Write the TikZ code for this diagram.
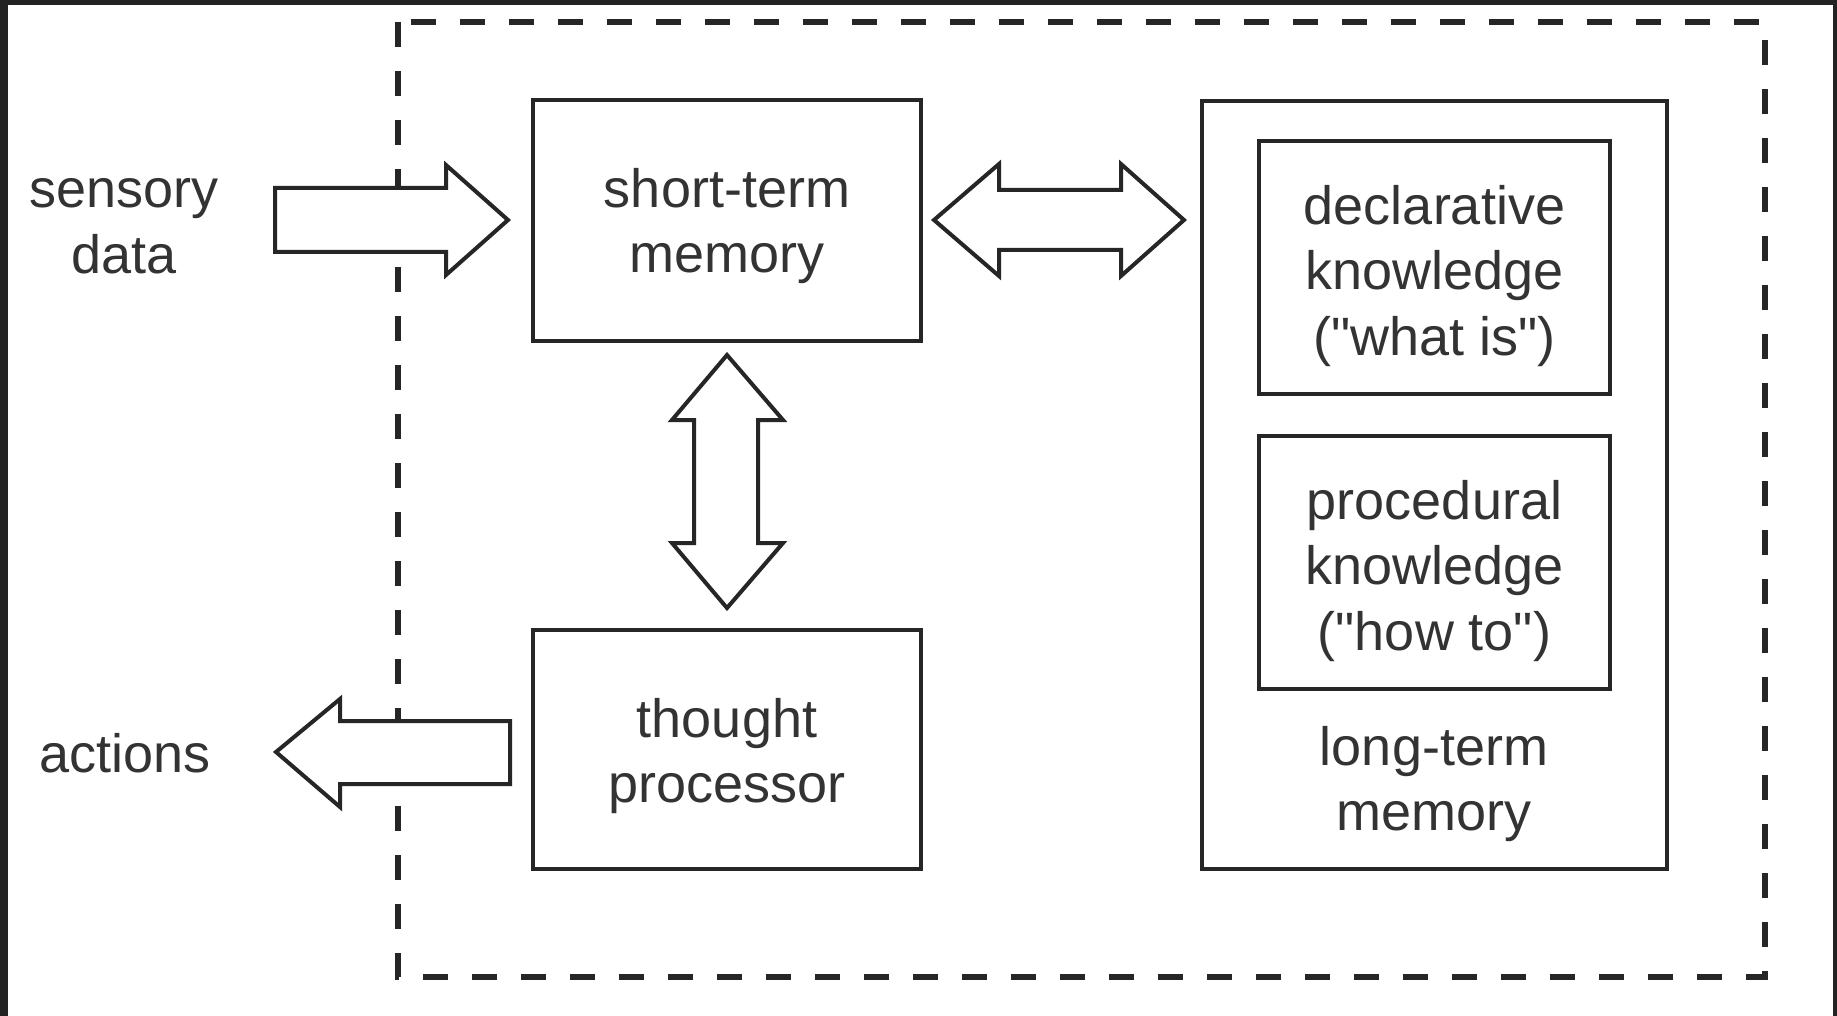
\documentclass[tikz,border=0pt]{standalone}
\usepackage{fontspec}
\setmainfont{Liberation Sans}
\definecolor{frame}{HTML}{232323}
\definecolor{ink}{HTML}{262626}
\definecolor{txt}{HTML}{333333}
% straight double quote, set as a glyph so no ligature mapping curls it
\newcommand{\sq}{\XeTeXglyph\XeTeXcharglyph"22\relax}
\begin{document}
\begin{tikzpicture}[x=1pt,y=-1pt,
  every node/.style={font=\fontsize{54}{65.6}\selectfont, text=txt, align=center, inner sep=0pt},
  box/.style={draw=ink, line width=4pt},
  blockarrow/.style={draw=ink, line width=4pt, fill=white, line join=miter},
  groupline/.style={draw=ink, line width=5.5pt, dash pattern=on 25pt off 24pt}]
  % dark surround and white canvas
  \fill[frame] (0,0) rectangle (1837,1016);
  \fill[white] (8,5) rectangle (1833,1016);
  \useasboundingbox (0,0) rectangle (1837,1016);

  % system boundary
  \draw[groupline] (398,22) rectangle (1765,977);

  % components
  \node[box, minimum width=388pt, minimum height=241pt] (stm) at (727,220.5) {};
  \node (stmtext) at (727,226) {short-term\\memory};
  \node[box, minimum width=388pt, minimum height=239pt] (tp) at (727,749.5) {};
  \node (tptext) at (727,756) {thought\\processor};
  \node[box, minimum width=465pt, minimum height=768pt] (ltm) at (1434.5,485) {};
  \node[box, minimum width=351pt, minimum height=253pt] (decl) at (1434.5,267.5) {};
  \node (decltext) at (1434.5,276) {declarative\\knowledge\\(\sq what is\sq)};
  \node[box, minimum width=351pt, minimum height=253pt] (proc) at (1434.5,562.5) {};
  \node (proctext) at (1434.5,571) {procedural\\knowledge\\(\sq how to\sq)};
  \node (ltmtext) at (1434,784) {long-term\\memory};

  % external labels
  \node (sensory) at (124,226) {sensory\\data};
  \node (actions) at (125,753) {actions};

  % sensory data -> short-term memory
  \draw[blockarrow] (275,188) -- (446,188) -- (446,165) -- (508,220) -- (446,275)
    -- (446,252) -- (275,252) -- cycle;

  % short-term memory <-> long-term memory
  \draw[blockarrow] (934,220) -- (999,164) -- (999,190) -- (1121,190) -- (1121,164)
    -- (1184,220) -- (1121,276) -- (1121,250) -- (999,250) -- (999,276) -- cycle;

  % short-term memory <-> thought processor
  \draw[blockarrow] (727,355) -- (783,420) -- (758,420) -- (758,543) -- (783,543)
    -- (727,608) -- (672,543) -- (694,543) -- (694,420) -- (672,420) -- cycle;

  % thought processor -> actions
  \draw[blockarrow] (510,721) -- (340,721) -- (340,699) -- (276,752) -- (340,807)
    -- (340,784) -- (510,784) -- cycle;
\end{tikzpicture}
\end{document}
